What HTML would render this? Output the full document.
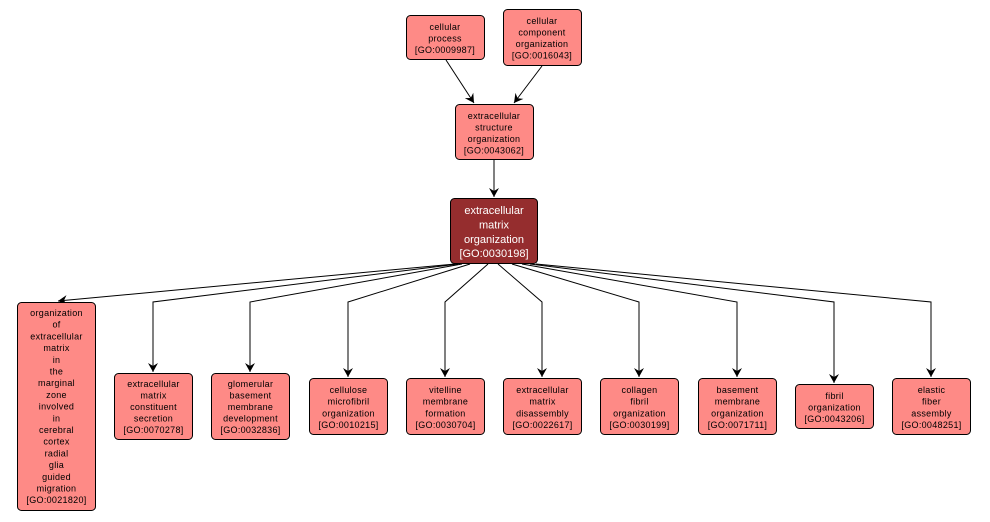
<!DOCTYPE html>
<html><head><meta charset="utf-8"><style>
html,body{margin:0;padding:0;background:#fff;}
svg{display:block;}
text{font-family:"Liberation Sans",sans-serif;font-size:9px;fill:#000;text-anchor:middle;letter-spacing:0.3px;}
.w{fill:#fff;font-size:11px;letter-spacing:0;}
rect.n{fill:#fe8a86;stroke:#000;stroke-width:1;}
</style></head><body>
<svg width="990" height="522" viewBox="0 0 990 522" xmlns="http://www.w3.org/2000/svg">
<defs><marker id="a" markerWidth="10" markerHeight="10" refX="9" refY="5" orient="auto" markerUnits="userSpaceOnUse"><path d="M0,0 L9,5 L0,10 L3,5 Z" fill="#000"/></marker></defs>
<g fill="none" stroke="#000" stroke-width="1">
<line x1="446" y1="60" x2="474" y2="103" marker-end="url(#a)"/>
<line x1="542" y1="66" x2="514" y2="103" marker-end="url(#a)"/>
<line x1="494" y1="160" x2="494" y2="197" marker-end="url(#a)"/>
<path d="M455,264 L58,301" marker-end="url(#a)"/>
<path d="M458,264 L153,302 L153,372" marker-end="url(#a)"/>
<path d="M462,264 L250,302 L250,372" marker-end="url(#a)"/>
<path d="M470,264 L348,302 L348,377" marker-end="url(#a)"/>
<path d="M488,264 L445,302 L445,377" marker-end="url(#a)"/>
<path d="M498,264 L542,302 L542,377" marker-end="url(#a)"/>
<path d="M512,264 L639,302 L639,377" marker-end="url(#a)"/>
<path d="M522,264 L737,302 L737,377" marker-end="url(#a)"/>
<path d="M530,264 L834,302 L834,383" marker-end="url(#a)"/>
<path d="M536,264 L931,302 L931,377" marker-end="url(#a)"/>
</g>
<rect class="n" x="406.5" y="15.5" width="78" height="44" rx="4"/>
<text x="445" y="30">cellular</text><text x="445" y="41.5">process</text><text x="445" y="53">[GO:0009987]</text>
<rect class="n" x="503.5" y="9.5" width="78" height="56" rx="4"/>
<text x="542" y="24">cellular</text><text x="542" y="35.5">component</text><text x="542" y="47">organization</text><text x="542" y="58.5">[GO:0016043]</text>
<rect class="n" x="455.5" y="104.5" width="78" height="55" rx="4"/>
<text x="494" y="119">extracellular</text><text x="494" y="130.5">structure</text><text x="494" y="142">organization</text><text x="494" y="153.5">[GO:0043062]</text>
<rect x="450.5" y="198.5" width="87" height="65" rx="4" fill="#952d2e" stroke="#000"/>
<text class="w" x="494" y="214">extracellular</text><text class="w" x="494" y="228.5">matrix</text><text class="w" x="494" y="243">organization</text><text class="w" x="494" y="257">[GO:0030198]</text>
<rect class="n" x="17.5" y="302.5" width="78" height="208" rx="4"/>
<g>
<text x="56.5" y="316">organization</text><text x="56.5" y="327.7">of</text><text x="56.5" y="339.4">extracellular</text><text x="56.5" y="351.1">matrix</text><text x="56.5" y="362.8">in</text><text x="56.5" y="374.5">the</text><text x="56.5" y="386.2">marginal</text><text x="56.5" y="397.9">zone</text><text x="56.5" y="409.6">involved</text><text x="56.5" y="421.3">in</text><text x="56.5" y="433">cerebral</text><text x="56.5" y="444.7">cortex</text><text x="56.5" y="456.4">radial</text><text x="56.5" y="468.1">glia</text><text x="56.5" y="479.8">guided</text><text x="56.5" y="491.5">migration</text><text x="56.5" y="503.2">[GO:0021820]</text>
</g>
<rect class="n" x="114.5" y="373.5" width="78" height="66" rx="4"/>
<text x="153.5" y="387">extracellular</text><text x="153.5" y="398.5">matrix</text><text x="153.5" y="410">constituent</text><text x="153.5" y="421.5">secretion</text><text x="153.5" y="433">[GO:0070278]</text>
<rect class="n" x="211.5" y="373.5" width="78" height="66" rx="4"/>
<text x="250.5" y="387">glomerular</text><text x="250.5" y="398.5">basement</text><text x="250.5" y="410">membrane</text><text x="250.5" y="421.5">development</text><text x="250.5" y="433">[GO:0032836]</text>
<rect class="n" x="309.5" y="378.5" width="78" height="56" rx="4"/>
<text x="348.5" y="393">cellulose</text><text x="348.5" y="404.5">microfibril</text><text x="348.5" y="416.5">organization</text><text x="348.5" y="428">[GO:0010215]</text>
<rect class="n" x="406.5" y="378.5" width="78" height="56" rx="4"/>
<text x="445.5" y="393">vitelline</text><text x="445.5" y="404.5">membrane</text><text x="445.5" y="416.5">formation</text><text x="445.5" y="428">[GO:0030704]</text>
<rect class="n" x="503.5" y="378.5" width="78" height="56" rx="4"/>
<text x="542.5" y="393">extracellular</text><text x="542.5" y="404.5">matrix</text><text x="542.5" y="416.5">disassembly</text><text x="542.5" y="428">[GO:0022617]</text>
<rect class="n" x="600.5" y="378.5" width="78" height="56" rx="4"/>
<text x="639.5" y="393">collagen</text><text x="639.5" y="404.5">fibril</text><text x="639.5" y="416.5">organization</text><text x="639.5" y="428">[GO:0030199]</text>
<rect class="n" x="698.5" y="378.5" width="78" height="56" rx="4"/>
<text x="737.5" y="393">basement</text><text x="737.5" y="404.5">membrane</text><text x="737.5" y="416.5">organization</text><text x="737.5" y="428">[GO:0071711]</text>
<rect class="n" x="795.5" y="384.5" width="78" height="44" rx="4"/>
<text x="834.5" y="399">fibril</text><text x="834.5" y="410.5">organization</text><text x="834.5" y="422">[GO:0043206]</text>
<rect class="n" x="892.5" y="378.5" width="78" height="56" rx="4"/>
<text x="931.5" y="393">elastic</text><text x="931.5" y="404.5">fiber</text><text x="931.5" y="416.5">assembly</text><text x="931.5" y="428">[GO:0048251]</text>
</svg>
</body></html>
